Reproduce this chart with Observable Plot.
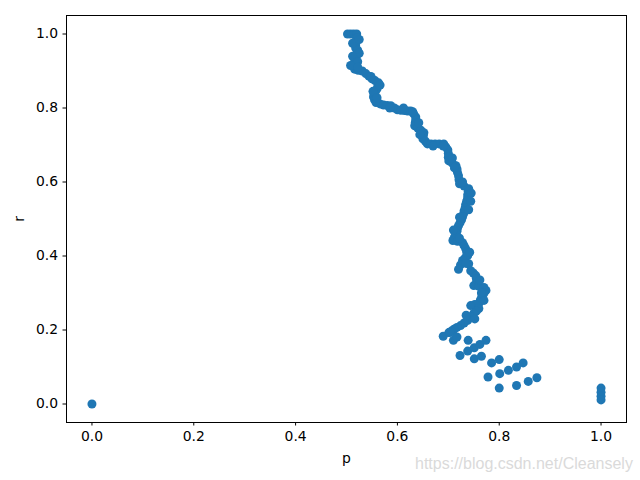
<!DOCTYPE html>
<html>
<head>
<meta charset="utf-8">
<script src="https://cdn.jsdelivr.net/npm/d3@7"></script>
<script src="https://cdn.jsdelivr.net/npm/@observablehq/plot@0.6"></script>
<style>
  html, body { margin: 0; padding: 0; background: white; }
  #wrap { position: relative; width: 640px; height: 480px; }
  #wm { position: absolute; left: 415px; top: 455px; font-family: "Liberation Sans", Arial, sans-serif; font-size: 16px; color: #dadada; white-space: nowrap; }
</style>
</head>
<body>
<div id="wrap"><span id="wm">https://blog.csdn.net/Cleansely</span></div>
<script>
// precision values (x) and recall values (y)
const pValues = [
  0.502,0.508,0.514,0.520,0.520,0.519,0.518,0.518,0.522,0.521,
  0.519,0.517,0.515,0.514,0.516,0.523,0.531,0.538,0.544,0.550,
  0.556,0.563,0.562,0.560,0.557,0.554,0.553,0.555,0.558,0.566,
  0.573,0.580,0.587,0.594,0.600,0.607,0.614,0.620,0.626,0.632,
  0.636,0.636,0.635,0.634,0.640,0.646,0.652,0.651,0.650,0.655,
  0.659,0.666,0.674,0.682,0.691,0.695,0.699,0.700,0.700,0.701,
  0.708,0.715,0.717,0.718,0.720,0.721,0.722,0.731,0.740,0.739,
  0.738,0.738,0.736,0.734,0.733,0.731,0.730,0.728,0.726,0.723,
  0.720,0.718,0.717,0.715,0.712,0.709,0.718,0.728,0.731,0.734,
  0.736,0.738,0.733,0.728,0.724,0.720,0.740,0.744,0.749,0.754,
  0.755,0.756,0.750,0.760,0.770,0.774,0.770,0.766,0.763,0.760,
  0.752,0.744,0.760,0.755,0.750,0.744,0.738,0.731,0.724,0.717,
  0.711,0.706,0.701,0.690,0.703,0.710,0.717,0.739,0.723,0.738,
  0.751,0.762,0.774,0.751,0.765,0.785,0.800,0.778,0.801,0.818,
  0.834,0.847,0.800,0.834,0.857,0.874,1.000,1.000,1.000,1.000,
  0.000,
  0.512,0.525,0.525,0.512,0.522,0.508,0.522,0.548,0.566,0.552,
  0.560,0.585,0.612,0.630,0.642,0.644,0.670,0.690,0.708,0.712,
  0.728,0.745,0.744,0.740,0.722,0.710,0.722,0.742,0.735,0.762,
  0.765,0.770,0.735,0.752
];
const rValues = [
  1.000,1.000,1.000,1.000,0.990,0.980,0.970,0.962,0.956,0.946,
  0.938,0.930,0.922,0.914,0.905,0.902,0.900,0.893,0.886,0.879,
  0.874,0.868,0.860,0.852,0.845,0.838,0.830,0.822,0.815,0.811,
  0.808,0.807,0.806,0.800,0.795,0.794,0.793,0.792,0.792,0.784,
  0.776,0.768,0.760,0.752,0.746,0.740,0.733,0.725,0.717,0.710,
  0.703,0.703,0.703,0.703,0.703,0.695,0.687,0.677,0.667,0.657,
  0.651,0.644,0.635,0.626,0.617,0.606,0.595,0.589,0.582,0.574,
  0.565,0.557,0.548,0.539,0.530,0.522,0.514,0.506,0.498,0.490,
  0.482,0.475,0.467,0.460,0.451,0.442,0.440,0.436,0.428,0.420,
  0.411,0.401,0.395,0.388,0.376,0.364,0.379,0.360,0.354,0.347,
  0.339,0.331,0.320,0.318,0.315,0.307,0.299,0.291,0.281,0.272,
  0.269,0.266,0.258,0.251,0.245,0.236,0.226,0.219,0.212,0.207,
  0.202,0.197,0.193,0.183,0.194,0.172,0.181,0.172,0.131,0.143,
  0.152,0.161,0.172,0.122,0.129,0.111,0.120,0.073,0.082,0.091,
  0.100,0.111,0.043,0.050,0.061,0.071,0.043,0.032,0.021,0.011,
  0.000,
  0.975,0.985,0.948,0.940,0.925,0.915,0.910,0.885,0.862,0.845,
  0.828,0.800,0.800,0.790,0.760,0.728,0.697,0.697,0.665,0.638,
  0.600,0.570,0.548,0.525,0.505,0.470,0.448,0.410,0.380,0.335,
  0.300,0.280,0.240,0.230
];
const xTicks = [0.0, 0.2, 0.4, 0.6, 0.8, 1.0];
const yTicks = [0.0, 0.2, 0.4, 0.6, 0.8, 1.0];
const xLabel = "p";
const yLabel = "r";

const points = pValues.map((p, i) => ({p, r: rValues[i]}));

const chart = Plot.plot({
  width: 640,
  height: 480,
  marginLeft: 66,
  marginRight: 14,
  marginTop: 15,
  marginBottom: 58,
  style: {fontFamily: "DejaVu Sans", fontSize: "13.9px", background: "white", color: "black"},
  x: {domain: [-0.05, 1.05]},
  y: {domain: [-0.05, 1.05]},
  marks: [
    Plot.dot(points, {x: "p", y: "r", r: 4.5, fill: "#1f77b4", stroke: "none"}),
    Plot.frame({stroke: "black", strokeWidth: 1}),
    Plot.axisX(xTicks, {tickFormat: ".1f", tickSize: 3.5, tickPadding: 4.9, label: xLabel, labelAnchor: "center", labelOffset: 40, labelArrow: "none"}),
    Plot.axisY(yTicks, {tickFormat: ".1f", tickSize: 3.5, tickPadding: 4.9, label: yLabel, labelAnchor: "center", labelOffset: 52, labelArrow: "none"})
  ]
});
document.getElementById("wrap").prepend(chart);
</script>
</body>
</html>
